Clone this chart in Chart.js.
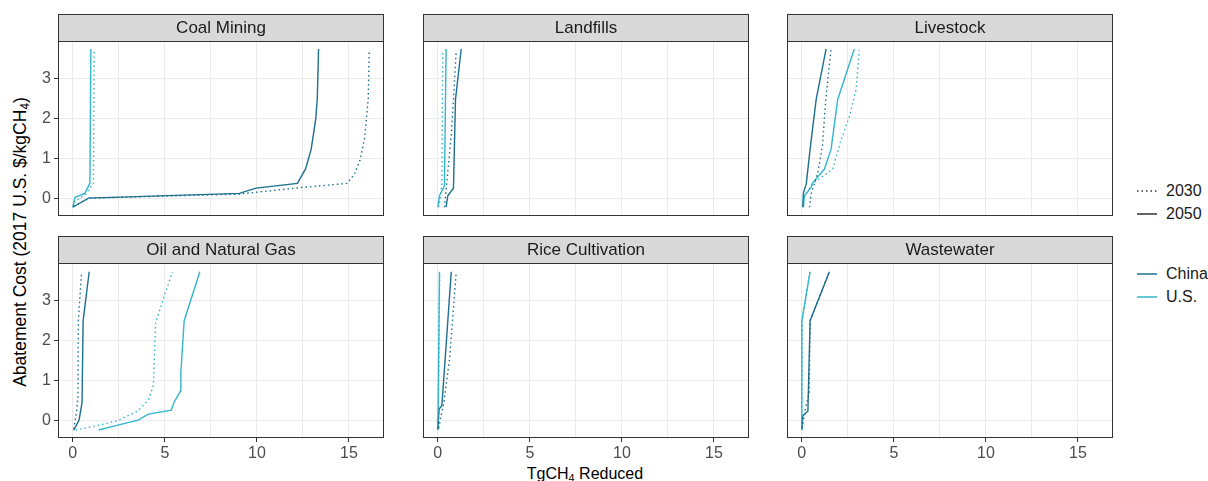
<!DOCTYPE html>
<html>
<head>
<meta charset="utf-8">
<title>Methane abatement cost curves</title>
<script src="https://cdn.jsdelivr.net/npm/chart.js@4/dist/chart.umd.min.js"></script>
<style>
  html, body { margin: 0; padding: 0; background: #fff; }
  body { width: 1208px; height: 481px; position: relative; overflow: hidden;
         font-family: "Liberation Sans", Arial, sans-serif; }
  canvas.panel { position: absolute; }
  .ytitle { position: absolute; left: 20px; top: 242px; transform: translate(-50%, -50%) rotate(-90deg);
            white-space: nowrap; font-size: 17.5px; color: #000; }
  .xtitle { position: absolute; left: 585px; top: 474px; transform: translate(-50%, -50%);
            white-space: nowrap; font-size: 16px; color: #000; }
  sub { font-size: 0.68em; vertical-align: -3px; line-height: 0; }
  .key { position: absolute; left: 1136px; width: 22px; height: 4px; }
  .ktext { position: absolute; left: 1166px; font-size: 16px; color: #1a1a1a; transform: translateY(-50%); white-space: nowrap; }
</style>
</head>
<body>
<div class="ytitle">Abatement Cost (2017 U.S. $/kgCH<sub>4</sub>)</div>
<div class="xtitle">TgCH<sub>4</sub> Reduced</div>

<svg class="key" style="top:189px" width="22" height="4"><line x1="1" y1="2" x2="21" y2="2" stroke="#333" stroke-width="1.5" stroke-dasharray="1.5 3"/></svg>
<div class="ktext" style="top:191px">2030</div>
<svg class="key" style="top:212px" width="22" height="4"><line x1="1" y1="2" x2="21" y2="2" stroke="#333" stroke-width="1.5"/></svg>
<div class="ktext" style="top:214px">2050</div>
<svg class="key" style="top:272px" width="22" height="4"><line x1="1" y1="2" x2="21" y2="2" stroke="#1d6f8e" stroke-width="1.5"/></svg>
<div class="ktext" style="top:274px">China</div>
<svg class="key" style="top:295px" width="22" height="4"><line x1="1" y1="2" x2="21" y2="2" stroke="#33b6cc" stroke-width="1.5"/></svg>
<div class="ktext" style="top:297px">U.S.</div>

<script>
// ---- data: cumulative reduction (TgCH4) vs. abatement cost ($/kgCH4), [x, y] ----
const sectors   = ['Coal Mining', 'Landfills', 'Livestock', 'Oil and Natural Gas', 'Rice Cultivation', 'Wastewater'];
const countries = ['China', 'U.S.'];
const years     = ['2030', '2050'];

const xTicks = [0, 2.5, 5, 7.5, 10, 12.5, 15];
const xLabelTicks = [0, 5, 10, 15];
const yTicks = [0, 1, 2, 3];

const coalChina2030 = [[0.05,-0.2],[0.9,0.0],[9.0,0.1],[12.5,0.27],[14.9,0.37],[15.3,0.6],[15.6,0.95],[15.85,1.5],[15.95,2.0],[16.05,2.5],[16.1,3.72]];
const coalChina2050 = [[0.0,-0.23],[0.85,0.0],[9.05,0.12],[9.95,0.25],[12.2,0.37],[12.65,0.74],[12.95,1.23],[13.2,2.0],[13.28,2.5],[13.35,3.75]];
const coalUS2030    = [[0.05,-0.1],[0.7,0.1],[1.12,0.38],[1.16,3.72]];
const coalUS2050    = [[0.0,-0.23],[0.12,0.02],[0.65,0.12],[0.93,0.38],[0.98,3.75]];

const landfillChina2030 = [[0.36,-0.23],[0.5,0.45],[0.73,1.6],[0.85,2.5],[1.0,3.72]];
const landfillChina2050 = [[0.45,-0.23],[0.54,0.06],[0.85,0.25],[0.96,2.48],[1.27,3.75]];
const landfillUS2030    = [[0.05,-0.23],[0.22,0.3],[0.27,3.72]];
const landfillUS2050    = [[0.0,-0.23],[0.09,0.06],[0.36,0.31],[0.45,3.75]];

const livestockChina2030 = [[0.42,-0.23],[0.5,0.1],[0.85,0.6],[1.12,1.3],[1.3,2.48],[1.58,3.72]];
const livestockChina2050 = [[0.05,-0.23],[0.09,0.14],[0.24,0.35],[0.45,1.23],[0.78,2.48],[1.32,3.75]];
const livestockUS2030    = [[0.02,-0.07],[0.55,0.35],[1.68,0.73],[2.14,1.48],[2.59,2.06],[2.95,2.73],[3.12,3.72]];
const livestockUS2050    = [[0.09,-0.23],[0.14,0.06],[0.5,0.27],[0.6,0.39],[1.23,0.73],[1.59,1.23],[1.95,2.48],[2.85,3.75]];

const oilGasChina2030 = [[0.05,-0.22],[0.2,0.2],[0.28,0.6],[0.3,2.5],[0.47,3.68]];
const oilGasChina2050 = [[0.05,-0.25],[0.34,0.0],[0.5,0.44],[0.56,2.5],[0.89,3.73]];
const oilGasUS2030    = [[0.15,-0.25],[1.5,-0.12],[2.4,-0.02],[3.5,0.22],[4.1,0.5],[4.38,0.88],[4.42,1.45],[4.5,2.45],[4.85,2.95],[5.4,3.72]];
const oilGasUS2050    = [[1.4,-0.25],[2.5,-0.12],[3.55,0.0],[4.1,0.15],[5.35,0.25],[5.5,0.45],[5.85,0.73],[5.87,1.2],[6.05,2.5],[6.9,3.73]];

const riceChina2030 = [[0.05,-0.2],[0.33,0.45],[0.64,1.55],[1.0,3.72]];
const riceChina2050 = [[0.0,-0.25],[0.07,0.28],[0.22,0.36],[0.73,3.73]];
const riceUS2030    = [[0.02,-0.25],[0.1,3.72]];
const riceUS2050    = [[0.0,-0.25],[0.02,0.3],[0.09,3.73]];

const wasteChina2030 = [[0.02,-0.2],[0.2,0.3],[0.4,0.7],[0.45,2.5],[1.48,3.72]];
const wasteChina2050 = [[0.0,-0.25],[0.05,0.1],[0.33,0.23],[0.45,2.5],[1.5,3.73]];
const wasteUS2030    = [[0.0,-0.25],[0.02,2.5],[0.43,3.72]];
const wasteUS2050    = [[0.0,-0.25],[0.0,2.5],[0.45,3.73]];

const curves = {
  'Coal Mining':         { 'China': { '2030': coalChina2030, '2050': coalChina2050 }, 'U.S.': { '2030': coalUS2030, '2050': coalUS2050 } },
  'Landfills':           { 'China': { '2030': landfillChina2030, '2050': landfillChina2050 }, 'U.S.': { '2030': landfillUS2030, '2050': landfillUS2050 } },
  'Livestock':           { 'China': { '2030': livestockChina2030, '2050': livestockChina2050 }, 'U.S.': { '2030': livestockUS2030, '2050': livestockUS2050 } },
  'Oil and Natural Gas': { 'China': { '2030': oilGasChina2030, '2050': oilGasChina2050 }, 'U.S.': { '2030': oilGasUS2030, '2050': oilGasUS2050 } },
  'Rice Cultivation':    { 'China': { '2030': riceChina2030, '2050': riceChina2050 }, 'U.S.': { '2030': riceUS2030, '2050': riceUS2050 } },
  'Wastewater':          { 'China': { '2030': wasteChina2030, '2050': wasteChina2050 }, 'U.S.': { '2030': wasteUS2030, '2050': wasteUS2050 } }
};

// ---- styling ----
const countryColor = { 'China': '#1d6f8e', 'U.S.': '#33b6cc' };
const yearDash     = { '2030': [1.5, 3], '2050': [] };
const FONT = '"Liberation Sans", Arial, sans-serif';
Chart.defaults.font.family = FONT;

// shared axis limits (5% padding around the data range, as in a faceted plot)
const xMin = -0.805, xMax = 16.905;
const yMin = -0.45,  yMax = 3.95;

// facet grid geometry
const colLeft = [58, 423, 787];
const rowTop  = [14, 236];
const plotW = 326, plotH = 175, stripH = 27, yAxisW = 45, xAxisH = 26;

// draws the grey facet strip and the panel frame
const facetFrame = {
  id: 'facetFrame',
  afterDraw(chart, args, opts) {
    const { ctx, chartArea: a } = chart;
    ctx.save();
    ctx.strokeStyle = '#333333';
    ctx.lineWidth = 1;
    ctx.strokeRect(a.left + 0.5, a.top + 0.5, a.right - a.left - 1, a.bottom - a.top - 1);
    ctx.fillStyle = '#d9d9d9';
    ctx.fillRect(a.left, 1, a.right - a.left, a.top - 1);
    ctx.strokeRect(a.left + 0.5, 1.5, a.right - a.left - 1, a.top - 1);
    ctx.fillStyle = '#1a1a1a';
    ctx.font = '17px ' + FONT;
    ctx.textAlign = 'center';
    ctx.textBaseline = 'middle';
    ctx.fillText(opts.title, (a.left + a.right) / 2, (1 + a.top) / 2 + 1);
    ctx.restore();
  }
};

sectors.forEach((sector, i) => {
  const row = Math.floor(i / 3), col = i % 3;
  const showX = row === 1, showY = col === 0;

  const canvas = document.createElement('canvas');
  canvas.className = 'panel';
  canvas.width = yAxisW + plotW + 2;
  canvas.height = 1 + stripH + plotH + xAxisH;
  canvas.style.left = (colLeft[col] - yAxisW) + 'px';
  canvas.style.top = (rowTop[row] - 1) + 'px';
  document.body.appendChild(canvas);

  const datasets = [];
  years.forEach(year => {
    countries.forEach(country => {
      datasets.push({
        label: country + ' ' + year,
        data: curves[sector][country][year].map(([x, y]) => ({ x, y })),
        borderColor: countryColor[country],
        borderWidth: 1.4,
        borderDash: yearDash[year],
        pointRadius: 0,
        fill: false,
        tension: 0
      });
    });
  });

  new Chart(canvas, {
    type: 'line',
    data: { datasets },
    options: {
      responsive: false,
      animation: false,
      devicePixelRatio: 1,
      layout: { padding: { top: 1 + stripH, right: 2, left: 0, bottom: 0 } },
      plugins: { legend: { display: false }, tooltip: { enabled: false }, facetFrame: { title: sector } },
      scales: {
        x: {
          type: 'linear', min: xMin, max: xMax,
          afterBuildTicks: s => { s.ticks = xTicks.map(v => ({ value: v })); },
          afterFit: s => { s.height = xAxisH; },
          border: { display: false },
          grid: {
            color: '#ebebeb', lineWidth: 1,
            drawTicks: showX, tickLength: 4, tickWidth: 1,
            tickColor: ctx => (ctx.tick && xLabelTicks.includes(ctx.tick.value)) ? '#333333' : 'rgba(0,0,0,0)'
          },
          ticks: {
            display: showX, autoSkip: false, maxRotation: 0, padding: 2,
            color: '#4d4d4d', font: { size: 16, family: FONT },
            callback: v => xLabelTicks.includes(v) ? String(v) : ''
          }
        },
        y: {
          type: 'linear', min: yMin, max: yMax,
          afterBuildTicks: s => { s.ticks = yTicks.map(v => ({ value: v })); },
          afterFit: s => { s.width = yAxisW; },
          border: { display: false },
          grid: { color: '#ebebeb', lineWidth: 1, drawTicks: showY, tickLength: 4, tickColor: '#333333' },
          ticks: {
            display: showY, padding: 3,
            color: '#4d4d4d', font: { size: 16, family: FONT },
            callback: v => String(v)
          }
        }
      }
    },
    plugins: [facetFrame]
  });
});
</script>
</body>
</html>
